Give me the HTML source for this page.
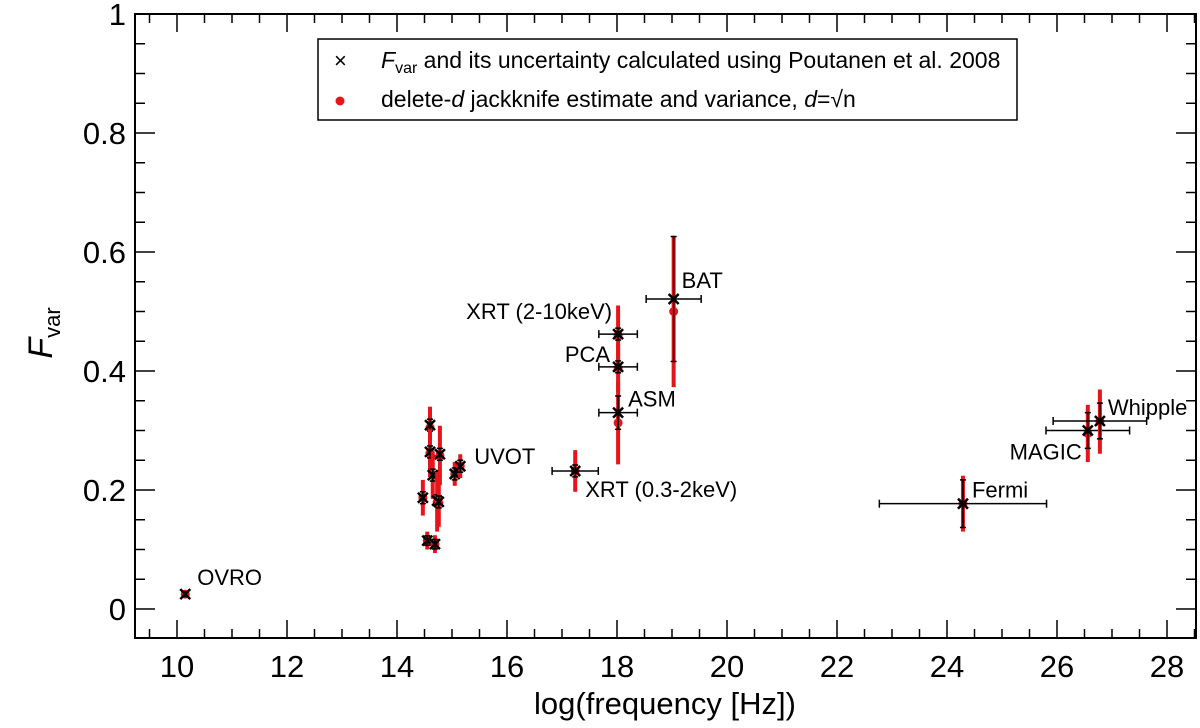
<!DOCTYPE html>
<html><head><meta charset="utf-8"><style>
body{margin:0;background:#fff}
svg{display:block;font-family:"Liberation Sans",Arial,sans-serif}
</style></head><body>
<svg id="chart" width="1200" height="728" viewBox="0 0 1200 728">
<g id="axes"></g>
<g id="marks"></g>
<g id="labels"></g>
<g>
<rect x="318" y="39" width="699" height="81" fill="#fff" stroke="#000" stroke-width="1.5"/>
<text x="334" y="68" font-size="22">×</text>
<text x="381" y="68" font-size="23"><tspan font-style="italic">F</tspan><tspan font-size="16" dy="5">var</tspan><tspan dy="-5"> and its uncertainty calculated using Poutanen et al. 2008</tspan></text>
<circle cx="340" cy="101" r="4.5" fill="#e8141c"/>
<text x="381" y="107" font-size="23">delete-<tspan font-style="italic">d</tspan> jackknife estimate and variance, <tspan font-style="italic">d</tspan>=√n</text>
</g>
<text x="665" y="714" font-size="31" text-anchor="middle">log(frequency [Hz])</text>
<text transform="translate(52,333) rotate(-90)" font-size="34" text-anchor="middle"><tspan font-style="italic">F</tspan><tspan font-size="22" dy="8">var</tspan></text>
</svg>
<script>
const names=["OVRO","o1","o2","o3","o4","o5","o6","o7","o8","o9","uv1","uv2","xrts","xrth","pca","asm","bat","fermi","magic","whipple"];
const logf=[10.15,14.6,14.6,14.78,14.65,14.47,14.73,14.76,14.55,14.69,15.05,15.15,17.24,18.02,18.02,18.02,19.03,24.29,26.56,26.78];
const fvar=[0.025,0.309,0.264,0.26,0.225,0.187,0.182,0.18,0.115,0.109,0.227,0.24,0.232,0.462,0.407,0.33,0.521,0.177,0.30,0.316];
const ferr=[0.004,0.01,0.01,0.01,0.01,0.01,0.01,0.01,0.008,0.008,0.01,0.01,0.01,0.01,0.01,0.028,0.105,0.04,0.03,0.03];
const jack=[0.025,0.305,0.262,0.258,0.225,0.187,0.18,0.178,0.115,0.109,0.227,0.24,0.232,0.46,0.405,0.313,0.50,0.177,0.295,0.315];
const jerr=[0.005,0.035,0.04,0.05,0.04,0.03,0.05,0.04,0.015,0.015,0.02,0.02,0.035,0.05,0.04,0.07,0.127,0.047,0.048,0.054];
const xerr=[0,0,0,0,0,0,0,0,0,0,0,0,0.42,0.35,0.35,0.35,0.5,1.52,0.76,0.85];
const labelText=["OVRO","UVOT","XRT (0.3-2keV)","XRT (2-10keV)","PCA","ASM","BAT","Fermi","MAGIC","Whipple"];
const labelIdx=[0,11,12,13,14,15,16,17,18,19];
const xTicks=[10,12,14,16,18,20,22,24,26,28];
const yTicks=[0,0.2,0.4,0.6,0.8,1];
const yTickText=["0","0.2","0.4","0.6","0.8","1"];
const X=v=>177+(v-10)*55, Y=v=>609-v*595;
const NS="http://www.w3.org/2000/svg";
function mk(p,t,a){const e=document.createElementNS(NS,t);for(const k in a)e.setAttribute(k,a[k]);p.appendChild(e);return e;}
const ax=document.getElementById('axes'),mg=document.getElementById('marks'),lg=document.getElementById('labels');
const L=135,R=1196,T=14,B=638;
const frame=mk(ax,'rect',{x:L,y:T,width:R-L,height:B-T,fill:'none',stroke:'#000','stroke-width':2});


for(let v=9.5;v<=28.5;v+=0.5){const x=X(v);if(x<L||x>R)continue;const maj=Math.abs(v-Math.round(v/2)*2)<1e-6;const len=maj?18:9;
mk(ax,'line',{x1:x,x2:x,y1:B,y2:B-len,stroke:'#000','stroke-width':1.5});mk(ax,'line',{x1:x,x2:x,y1:T,y2:T+len,stroke:'#000','stroke-width':1.5});}
for(let i=0;i<=21;i++){const v=-0.05+i*0.05;const y=Y(v);if(y<T-1||y>B)continue;const maj=Math.abs(v*5-Math.round(v*5))<1e-6;const len=maj?20:10;
mk(ax,'line',{x1:L,x2:L+len,y1:y,y2:y,stroke:'#000','stroke-width':1.5});mk(ax,'line',{x1:R,x2:R-len,y1:y,y2:y,stroke:'#000','stroke-width':1.5});}
xTicks.forEach(v=>{const t=mk(ax,'text',{x:X(v),y:677,'font-size':31,'text-anchor':'middle'});t.textContent=v;

});
yTicks.forEach((v,i)=>{const t=mk(ax,'text',{x:126,y:Y(v)+11,'font-size':31,'text-anchor':'end'});t.textContent=yTickText[i];

});
logf.forEach((lf,i)=>{const g=mk(mg,'g',{});


const x=X(lf);
mk(g,'line',{x1:x,x2:x,y1:Y(jack[i]-jerr[i]),y2:Y(jack[i]+jerr[i]),stroke:'#e8141c','stroke-width':4});
mk(g,'circle',{cx:x,cy:Y(jack[i]),r:4.5,fill:'#e8141c'});
mk(g,'line',{x1:x,x2:x,y1:Y(fvar[i]-ferr[i]),y2:Y(fvar[i]+ferr[i]),stroke:'#000','stroke-width':1.5});
[fvar[i]-ferr[i],fvar[i]+ferr[i]].forEach(v=>mk(g,'line',{x1:x-3,x2:x+3,y1:Y(v),y2:Y(v),stroke:'#000','stroke-width':1.5}));
if(xerr[i]>0){const y=Y(fvar[i]);mk(g,'line',{x1:X(lf-xerr[i]),x2:X(lf+xerr[i]),y1:y,y2:y,stroke:'#000','stroke-width':1.5});
[lf-xerr[i],lf+xerr[i]].forEach(v=>mk(g,'line',{x1:X(v),x2:X(v),y1:y-4,y2:y+4,stroke:'#000','stroke-width':1.5}));}
const y=Y(fvar[i]);mk(g,'path',{d:`M${x-5} ${y-5}L${x+5} ${y+5}M${x-5} ${y+5}L${x+5} ${y-5}`,stroke:'#000','stroke-width':2.5});
});
const lpos=[[12,-9,'start'],[14,-2,'start'],[10,26,'start'],[-6,-15,'end'],[-8,-5,'end'],[10,-6,'start'],[8,-11,'start'],[9,-6,'start'],[-6,29,'end'],[8,-6,'start']];
labelText.forEach((s,k)=>{const i=labelIdx[k];const p=lpos[k];const t=mk(lg,'text',{x:X(logf[i])+p[0],y:Y(fvar[i])+p[1],'font-size':22,'text-anchor':p[2]});t.textContent=s;

});
</script>
</body></html>
